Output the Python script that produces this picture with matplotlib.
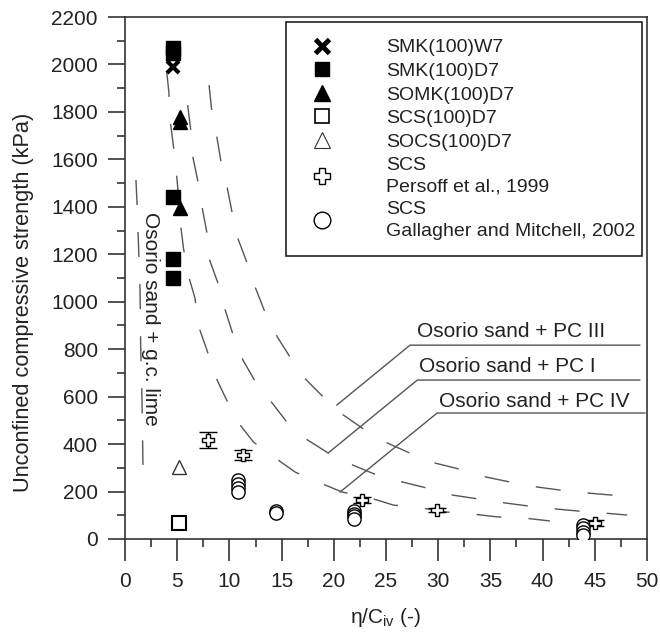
import numpy as np
import matplotlib.pyplot as plt
from matplotlib.lines import Line2D

plt.rcParams['font.family'] = ['Liberation Sans', 'DejaVu Sans']
plt.rcParams['mathtext.default'] = 'regular'

# measured points
smk_w7_x = [4.6, 4.6]
smk_w7_y = [1990, 2035]
smk_d7_x = [4.6, 4.6, 4.6, 4.6, 4.6]
smk_d7_y = [2070, 2050, 1440, 1180, 1100]
somk_d7_x = [5.25, 5.25, 5.25]
somk_d7_y = [1778, 1758, 1395]
scs_d7_x = [5.2]
scs_d7_y = [67]
socs_d7_x = [5.2]
socs_d7_y = [303]

persoff_x = [7.95, 11.3, 22.7, 29.9, 45.0]
persoff_y = [417, 354, 164, 122, 67]
persoff_err = [32, 23, 12, 10, 14]

gm_x = [10.8, 10.8, 10.8, 10.8, 14.5, 14.5, 21.9, 21.9, 21.9, 21.9, 43.9, 43.9, 43.9, 43.9]
gm_y = [250, 232, 215, 200, 120, 110, 118, 105, 95, 85, 60, 45, 30, 18]

# trend curves
lime_x = [1.05, 1.15, 1.3, 1.44, 1.5, 1.63, 1.72]
lime_y = [1513, 1416, 1230, 1049, 818, 586, 312]

pc3_x = [8.05, 8.3, 8.8, 9.2, 9.8, 10.25, 10.8, 11.7, 12.5, 13.4, 14.6, 15.8, 17.2, 19.0,
         20.9, 22.7, 25.1, 27.3, 29.7, 32.0, 34.6, 36.9, 39.5, 41.7, 44.5, 48.0]
pc3_y = [1913, 1808, 1694, 1589, 1479, 1378, 1268, 1163, 1058, 957, 851, 767, 678, 598,
         523, 468, 405, 362, 320, 295, 261, 240, 219, 206, 193, 180]

pc1_x = [6.0, 6.3, 6.5, 7.0, 7.4, 7.85, 8.1, 8.9, 9.6, 10.3, 11.3, 12.5, 14.1, 15.5,
         17.5, 19.3, 21.8, 24.1, 26.6, 28.9, 31.4, 33.8, 36.4, 38.8, 41.4, 43.6, 46.5, 48.1]
pc1_y = [1829, 1723, 1610, 1504, 1395, 1290, 1176, 1079, 965, 868, 754, 662, 573, 493,
         417, 367, 312, 270, 240, 215, 185, 169, 152, 138, 126, 117, 107, 101]

pc4_x = [4.0, 4.2, 4.3, 4.6, 4.9, 5.1, 5.3, 5.6, 6.0, 6.7, 7.0, 7.85, 8.6, 9.6, 10.8,
         12.3, 14.4, 16.3, 18.7, 20.8, 23.5, 25.7, 28.4, 30.7, 33.3, 35.7, 38.3, 40.7]
pc4_y = [1968, 1884, 1774, 1669, 1555, 1458, 1332, 1226, 1121, 1016, 902, 796, 691, 598, 493,
         409, 341, 282, 236, 198, 173, 143, 131, 114, 105, 93, 88, 76]

# label text, leader start (curve end) and underline start
curve_labels = ['Osorio sand + PC III', 'Osorio sand + PC I', 'Osorio sand + PC IV']
label_x = [27.95, 28.15, 30.1]
label_y = [851, 704, 556]
leader_tip_x = [20.3, 19.45, 20.6]
leader_tip_y = [565, 362, 198]
leader_knee_x = [27.3, 28.0, 29.9]
leader_knee_y = [817, 670, 531]
underline_end = [49.3, 49.3, 49.8]

fig = plt.figure(figsize=(6.6, 6.33), dpi=100)
ax = fig.add_axes([0.1894, 0.1485, 0.7909, 0.8246])

grey = '#555555'
for cx, cy in [(lime_x, lime_y), (pc3_x, pc3_y), (pc1_x, pc1_y), (pc4_x, pc4_y)]:
    ln, = ax.plot(cx, cy, color=grey, lw=1.0, zorder=1)
    ln.set_dashes((18, 19.5))

for i in range(3):
    ax.plot([leader_tip_x[i], leader_knee_x[i], underline_end[i]],
            [leader_tip_y[i], leader_knee_y[i], leader_knee_y[i]],
            color=grey, lw=1.0, zorder=1)
    ax.text(label_x[i], label_y[i], curve_labels[i], fontsize=15, color='#222222',
            ha='left', va='baseline')

ax.text(2.4, 927, 'Osorio sand + g.c. lime', rotation=-90, fontsize=15,
        color='#222222', ha='center', va='center')

ax.plot(smk_w7_x, smk_w7_y, 'x', color='k', ms=9, mew=3, zorder=3)
ax.plot(smk_d7_x, smk_d7_y, 's', color='k', ms=9.5, zorder=3)
ax.plot(somk_d7_x, somk_d7_y, '^', color='k', ms=10, zorder=3)
ax.plot(scs_d7_x, scs_d7_y, 's', mfc='white', mec='k', ms=9.5, mew=1.5, zorder=3)
ax.plot(socs_d7_x, socs_d7_y, '^', mfc='white', mec='#333333', ms=10, mew=1.0, zorder=3)
ax.errorbar(persoff_x, persoff_y, yerr=persoff_err, fmt='P', mfc='white', mec='k',
            ms=9, mew=1.0, ecolor='k', elinewidth=1.0, capsize=6.5, capthick=1.0, zorder=3)
ax.plot(gm_x, gm_y, 'o', mfc='white', mec='k', ms=9.5, mew=1.0, zorder=3)

ax.set_xlim(0, 50)
ax.set_ylim(0, 2200)
ax.set_xticks(np.arange(0, 51, 5))
ax.set_xticks(np.arange(0, 50, 2.5), minor=True)
ax.set_yticks(np.arange(0, 2201, 200))
ax.set_yticks(np.arange(0, 2200, 100), minor=True)

for side in ['left', 'right', 'top', 'bottom']:
    ax.spines[side].set_color('#333333')
    ax.spines[side].set_linewidth(1.2)

ax.tick_params(axis='both', which='major', direction='out', width=1.2, color='#333333',
               labelsize=15, labelcolor='#222222')
ax.tick_params(axis='both', which='minor', direction='out', width=1.2, color='#333333')
ax.tick_params(axis='y', which='major', length=12.5, pad=7)
ax.tick_params(axis='y', which='minor', length=6)
ax.tick_params(axis='x', which='major', length=15.5, pad=8)
ax.tick_params(axis='x', which='minor', length=6)

ax.set_xlabel('η/C$_{\\mathregular{iv}}$ (-)', fontsize=15, color='#222222')
ax.set_ylabel('Unconfined compressive strength (kPa)', fontsize=15.7, color='#222222')
ax.xaxis.set_label_coords(0.5, -0.128)
ax.yaxis.set_label_coords(-0.175, 0.454)

handles = [
    Line2D([], [], ls='none', marker='x', color='k', ms=10, mew=3.5),
    Line2D([], [], ls='none', marker='s', color='k', ms=10),
    Line2D([], [], ls='none', marker='^', color='k', ms=11),
    Line2D([], [], ls='none', marker='s', mfc='white', mec='k', ms=10, mew=1.2),
    Line2D([], [], ls='none', marker='^', mfc='white', mec='#333333', ms=11, mew=0.8),
    Line2D([], [], ls='none', marker='P', mfc='white', mec='k', ms=12, mew=1.0),
    Line2D([], [], ls='none', marker='o', mfc='white', mec='k', ms=12, mew=1.0),
]
labels = ['SMK(100)W7', 'SMK(100)D7', 'SOMK(100)D7', 'SCS(100)D7', 'SOCS(100)D7',
          'SCS\nPersoff et al., 1999', 'SCS\nGallagher and Mitchell, 2002']
leg = ax.legend(handles, labels, loc='upper left', bbox_to_anchor=(0.308, 0.538, 0.682, 0.452),
                mode='expand', fontsize=14, frameon=True, fancybox=False, framealpha=1,
                edgecolor='#222222', borderpad=0.85, handlelength=2.0,
                handletextpad=2.3, labelspacing=0.31, borderaxespad=0)
leg.get_frame().set_linewidth(1.2)
for t in leg.get_texts():
    t.set_color('#222222')
    t.set_linespacing(1.34)

fig.savefig('out.png', dpi=100)
